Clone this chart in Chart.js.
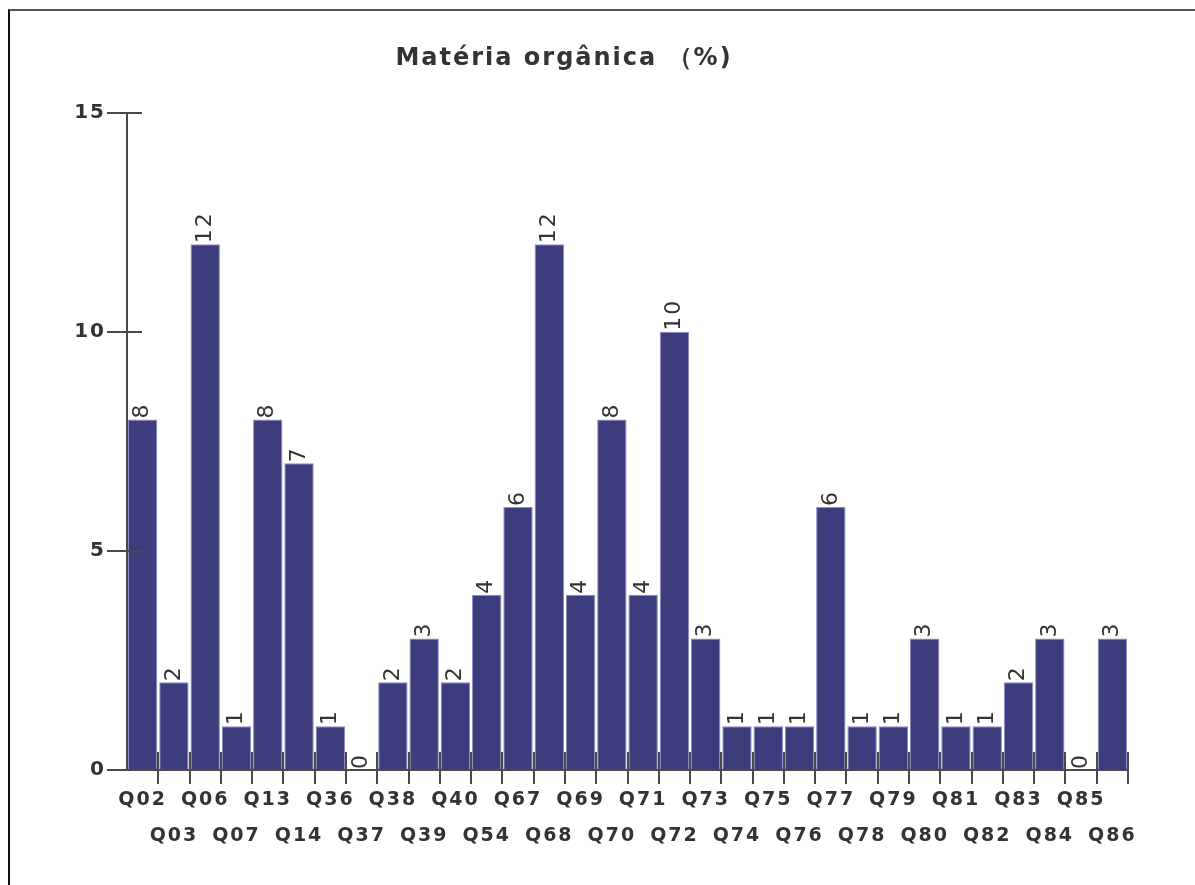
<!DOCTYPE html>
<html>
<head>
<meta charset="utf-8">
<script src="https://cdn.jsdelivr.net/npm/chart.js@4"></script>
<style>
  html, body { margin: 0; padding: 0; background: #fff; }
  #frame { position: absolute; left: 8px; top: 9px; right: 0; bottom: 0;
           border-top: 2px solid #555; border-left: 2px solid #111; }
  #wrap { position: absolute; left: 0; top: 0; width: 1195px; height: 885px; }
</style>
</head>
<body>
<div id="frame"></div>
<div id="wrap"><canvas id="chart"></canvas></div>
<script>
// categorias e valores (%)
const categories = ['Q02','Q03','Q06','Q07','Q13','Q14','Q36','Q37','Q38','Q39','Q40','Q54',
                    'Q67','Q68','Q69','Q70','Q71','Q72','Q73','Q74','Q75','Q76','Q77','Q78',
                    'Q79','Q80','Q81','Q82','Q83','Q84','Q85','Q86'];
const values = [8, 2, 12, 1, 8, 7, 1, 0, 2, 3, 2, 4,
                6, 12, 4, 8, 4, 10, 3, 1, 1, 1, 6, 1,
                1, 3, 1, 1, 2, 3, 0, 3];
const yTicks = [0, 5, 10, 15];

const axisColor = '#4a4a4a';
const textColor = '#333333';

// rótulos alternados em duas linhas
const xLabels = categories.map((c, i) => i % 2 === 0 ? c : ['', c]);

// espaçamento de letras (texto mais largo, como no original)
const spacingPlugin = {
    id: 'spacing',
    beforeDraw(chart) { chart.ctx.letterSpacing = '2px'; }
};

// valores rotacionados sobre as barras + prolongamento dos traços
const barLabels = {
    id: 'barLabels',
    afterDatasetsDraw(chart) {
        const ctx = chart.ctx;
        const meta = chart.getDatasetMeta(0);
        const x = chart.scales.x, y = chart.scales.y;
        ctx.save();
        // traços do eixo x entrando na área do gráfico
        ctx.strokeStyle = axisColor;
        ctx.lineWidth = 2;
        const half = (x.getPixelForValue(1) - x.getPixelForValue(0)) / 2;
        for (let i = 0; i < categories.length; i++) {
            const px = Math.round(x.getPixelForValue(i) + half);
            ctx.beginPath();
            ctx.moveTo(px, y.bottom);
            ctx.lineTo(px, y.bottom - 18);
            ctx.stroke();
        }
        // traços do eixo y entrando na área do gráfico
        yTicks.forEach(v => {
            const py = Math.round(y.getPixelForValue(v));
            ctx.beginPath();
            ctx.moveTo(x.left, py);
            ctx.lineTo(x.left + 15, py);
            ctx.stroke();
        });
        // números
        ctx.fillStyle = textColor;
        ctx.font = '22px "DejaVu Sans"';
        ctx.textAlign = 'left';
        ctx.textBaseline = 'middle';
        meta.data.forEach((bar, i) => {
            ctx.save();
            ctx.translate(bar.x, bar.y);
            ctx.rotate(-Math.PI / 2);
            ctx.fillText(String(values[i]), 1, 0);
            ctx.restore();
        });
        ctx.restore();
    }
};

const ctx = document.getElementById('chart').getContext('2d');
new Chart(ctx, {
    type: 'bar',
    data: {
        labels: xLabels,
        datasets: [{
            data: values,
            backgroundColor: '#3d3d7e',
            borderColor: '#8a8ac4',
            borderWidth: 1,
            barPercentage: 0.94,
            categoryPercentage: 1.0
        }]
    },
    options: {
        responsive: true,
        maintainAspectRatio: false,
        animation: false,
        layout: { padding: { left: 0, right: 67, top: 0, bottom: 0 } },
        plugins: {
            legend: { display: false },
            tooltip: { enabled: false },
            title: {
                display: true,
                text: 'Matéria orgânica （%)',
                color: textColor,
                font: { family: '"DejaVu Sans"', size: 24, weight: 'bold', lineHeight: 1.2 },
                padding: { top: 44, bottom: 40 }
            }
        },
        scales: {
            x: {
                grid: {
                    drawOnChartArea: false,
                    tickLength: 14,
                    lineWidth: 2,
                    color: c => c.index === 0 ? 'rgba(0,0,0,0)' : axisColor
                },
                border: { display: true, color: axisColor, width: 2 },
                ticks: {
                    autoSkip: false,
                    maxRotation: 0,
                    minRotation: 0,
                    padding: -2,
                    color: textColor,
                    font: { family: '"DejaVu Sans"', size: 19, weight: 'bold', lineHeight: '36px' }
                },
                afterFit: s => { s.height = 115; }
            },
            y: {
                min: 0,
                max: 15,
                afterBuildTicks: s => { s.ticks = yTicks.map(v => ({ value: v })); },
                grid: {
                    drawOnChartArea: false,
                    tickLength: 20,
                    lineWidth: 2,
                    color: axisColor
                },
                border: { display: true, color: axisColor, width: 2 },
                ticks: {
                    padding: 1,
                    color: textColor,
                    font: { family: '"DejaVu Sans"', size: 20, weight: 'bold' }
                },
                afterFit: s => { s.width = 127; }
            }
        }
    },
    plugins: [spacingPlugin, barLabels]
});
</script>
</body>
</html>
